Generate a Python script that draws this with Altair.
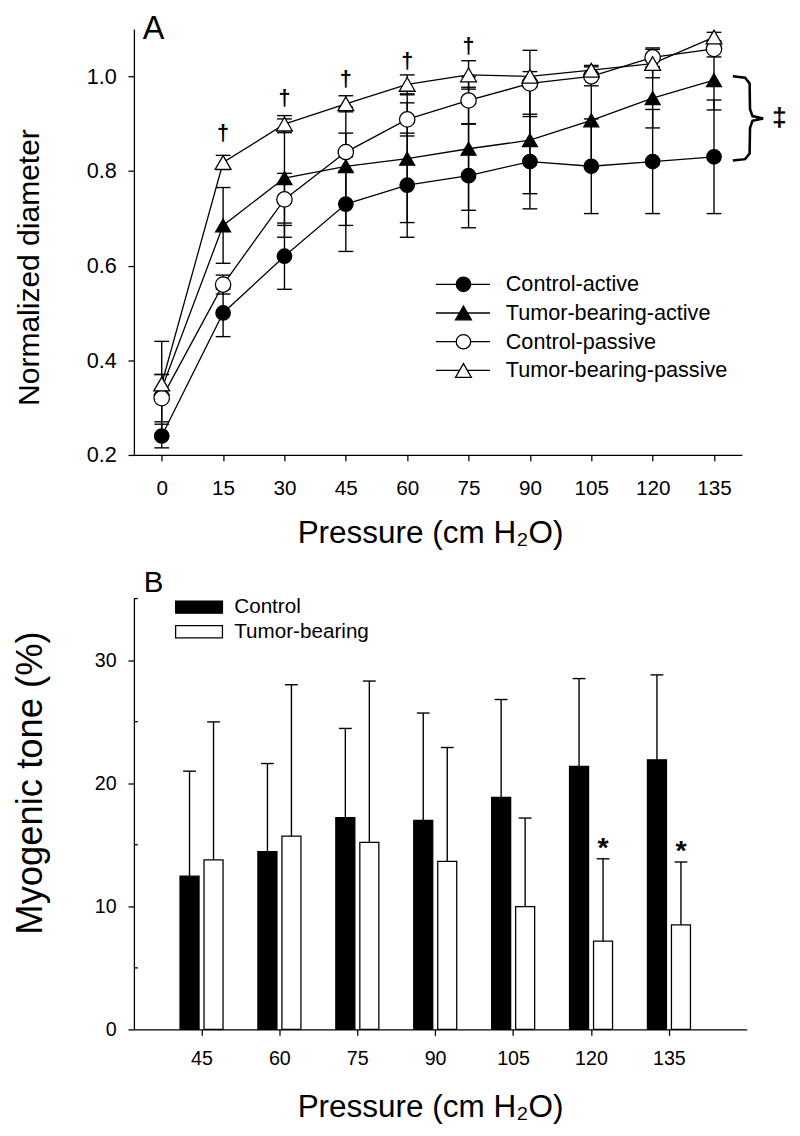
import altair as alt
import pandas as pd

# ---------------- Panel A data ----------------
pressure_a = [0, 15, 30, 45, 60, 75, 90, 105, 120, 135]
series_names = ["Control-active", "Tumor-bearing-active", "Control-passive", "Tumor-bearing-passive"]
control_active = [0.24, 0.50, 0.62, 0.73, 0.77, 0.79, 0.82, 0.81, 0.82, 0.83]
control_active_err = [0.025, 0.05, 0.07, 0.10, 0.11, 0.11, 0.10, 0.10, 0.11, 0.12]
tumor_active = [0.34, 0.685, 0.785, 0.81, 0.826, 0.847, 0.865, 0.907, 0.954, 0.992]
tumor_active_err = [0.10, 0.08, 0.125, 0.125, 0.135, 0.13, 0.113, 0.10, 0.063, 0.063]
control_passive = [0.32, 0.56, 0.74, 0.84, 0.909, 0.949, 0.985, 1.0, 1.04, 1.058]
control_passive_err = [0.05, 0.02, 0.055, 0.04, 0.035, 0.05, 0.07, 0.02, 0.02, 0.017]
tumor_passive = [0.35, 0.818, 0.899, 0.942, 0.983, 1.003, 1.0, 1.013, 1.027, 1.083]
tumor_passive_err = [0.02, 0.015, 0.018, 0.017, 0.02, 0.03, 0.01, 0.01, 0.03, 0.01]
dagger_x = [15, 30, 45, 60, 75]
dagger_y = [0.88, 0.955, 0.995, 1.033, 1.064]
y_ticks_a = [0.2, 0.4, 0.6, 0.8, 1.0]

# ---------------- Panel B data ----------------
pressure_b = [45, 60, 75, 90, 105, 120, 135]
group_names = ["Control", "Tumor-bearing"]
tone_control = [12.45, 14.45, 17.2, 16.98, 18.85, 21.36, 21.9]
tone_control_err = [8.53, 7.15, 7.25, 8.72, 7.95, 7.14, 6.9]
tone_tumor = [13.78, 15.7, 15.2, 13.65, 9.97, 7.17, 8.5]
tone_tumor_err = [11.2, 12.3, 13.1, 9.25, 7.2, 6.69, 5.1]
star_x = [120, 135]
y_ticks_b = [0, 10, 20, 30]
y_minor_b = [5, 15, 25, 35]

FONT = "Liberation Sans"
XTITLE = "Pressure (cm H\u2082O)"

# ---------------- Panel A ----------------
vals = [control_active, tumor_active, control_passive, tumor_passive]
errs = [control_active_err, tumor_active_err, control_passive_err, tumor_passive_err]
rows = []
for s, v, e in zip(series_names, vals, errs):
    for p, vv, ee in zip(pressure_a, v, e):
        rows.append({"series": s, "pressure": p, "val": vv, "lo": vv - ee, "hi": vv + ee})
dfa = pd.DataFrame(rows)

shapes = ["circle", "triangle-up", "circle", "triangle-up"]
fills = ["black", "black", "white", "white"]
sizes = [215, 260, 215, 260]

xs_a = alt.Scale(domain=[-6.8, 141.8], nice=False, zero=False)
ys_a = alt.Scale(domain=[0.2, 1.1], nice=False, zero=False)
x_a_axis = alt.Axis(values=pressure_a, title=XTITLE, labelFontSize=21,
                    labelBaseline="alphabetic", labelPadding=34, tickSize=6,
                    titleFontSize=32, titleY=89, titleBaseline="alphabetic",
                    titleX=301, labelFlush=False)
y_a_axis = alt.Axis(values=y_ticks_a, format=".1f", title="Normalized diameter",
                    labelFontSize=22, labelPadding=12, tickSize=6,
                    titleFontSize=30.5, titleX=-97, titleY=242,
                    titleBaseline="alphabetic", titleAngle=-90, labelFlush=False)


def xa(f="pressure:Q"):
    return alt.X(f, scale=xs_a, axis=x_a_axis)


def ya(f="val:Q"):
    return alt.Y(f, scale=ys_a, axis=y_a_axis)


base_a = alt.Chart(dfa)
err_a = base_a.mark_rule(color="black", strokeWidth=1.4).encode(x=xa(), y=ya("lo:Q"), y2="hi:Q")
caps_a = base_a.transform_fold(["lo", "hi"], as_=["k", "capv"]).mark_tick(
    orient="horizontal", size=15, thickness=1.4, color="black", opacity=1
).encode(x=xa(), y=ya("capv:Q"))
lines_a = base_a.mark_line(color="black", strokeWidth=1.3).encode(
    x=xa(), y=ya(), detail="series:N")
points_a = base_a.transform_calculate(
    ord="indexof(%s, datum.series)" % str(series_names)
).mark_point(filled=True, stroke="black", strokeWidth=1.3, opacity=1).encode(
    x=xa(), y=ya(),
    shape=alt.Shape("series:N", scale=alt.Scale(domain=series_names, range=shapes), legend=None),
    fill=alt.Fill("series:N", scale=alt.Scale(domain=series_names, range=fills), legend=None),
    size=alt.Size("series:N", scale=alt.Scale(domain=series_names, range=sizes), legend=None),
    order=alt.Order("ord:Q"),
)

dag_df = pd.DataFrame({"pressure": dagger_x, "val": dagger_y, "t": ["\u2020"] * len(dagger_x)})
daggers = alt.Chart(dag_df).mark_text(fontSize=22, fontWeight="bold", baseline="middle",
                                      color="black").encode(x=xa(), y=ya(), text="t:N")

# bracket between the two active curves at 135
top = tumor_active[-1] + 0.008
bot = control_active[-1] - 0.008
mid = (top + bot) / 2
bx = [139.6, 142.6, 143.7, 143.8, 144.4, 147.0, 144.4, 143.8, 143.7, 142.6, 139.6]
by = [top, top - 0.003, top - 0.015, mid + 0.02, mid + 0.005, mid,
      mid - 0.005, mid - 0.02, bot + 0.015, bot + 0.003, bot]
brace_df = pd.DataFrame({"pressure": bx, "val": by, "o": list(range(len(bx)))})
brace = alt.Chart(brace_df).mark_line(color="black", strokeWidth=2.6, clip=False).encode(
    x=xa(), y=ya(), order="o:Q")
dd_df = pd.DataFrame({"pressure": [151.0], "val": [mid], "t": ["\u2021"]})
ddag = alt.Chart(dd_df).mark_text(fontSize=27, fontWeight="bold", baseline="middle",
                                  color="black").encode(x=xa(), y=ya(), text="t:N")

leg_layers = []
for i, name in enumerate(series_names):
    ry = 259.5 + 29.2 * i
    d = pd.DataFrame({"name": [name]})
    leg_layers.append(alt.Chart(d).mark_rule(color="black", strokeWidth=1.3).encode(
        x=alt.value(307), x2=alt.value(362), y=alt.value(ry)))
    leg_layers.append(alt.Chart(d).mark_point(shape=shapes[i], filled=True, fill=fills[i],
                                              stroke="black", strokeWidth=1.3, size=sizes[i],
                                              opacity=1).encode(
        x=alt.value(335), y=alt.value(ry)))
    leg_layers.append(alt.Chart(d).mark_text(align="left", baseline="middle", fontSize=22,
                                             color="black").encode(
        text="name:N", x=alt.value(378), y=alt.value(ry)))

lab_a = alt.Chart(pd.DataFrame({"t": ["A"]})).mark_text(
    align="left", baseline="alphabetic", fontSize=33, color="black").encode(
    text="t:N", x=alt.value(9), y=alt.value(10))

panel_a = alt.layer(err_a, caps_a, lines_a, points_a, daggers, brace, ddag, *leg_layers, lab_a
                    ).properties(width=618, height=433)

# ---------------- Panel B ----------------
offsets = {"Control": -2.29, "Tumor-bearing": 2.33}
half_w = 1.83
rows = []
for g, v, e in zip(group_names, [tone_control, tone_tumor], [tone_control_err, tone_tumor_err]):
    for p, vv, ee in zip(pressure_b, v, e):
        xc = p + offsets[g]
        rows.append({"group": g, "pressure": p, "xc": xc, "x0": xc - half_w, "x1": xc + half_w,
                     "val": vv, "hi": vv + ee, "zero": 0})
dfb = pd.DataFrame(rows)

xs_b = alt.Scale(domain=[32, 150], nice=False, zero=False)
ys_b = alt.Scale(domain=[0, 35], nice=False, zero=False)
x_b_axis = alt.Axis(values=pressure_b, title=XTITLE, labelFontSize=20,
                    labelBaseline="alphabetic", labelPadding=30, tickSize=6,
                    titleFontSize=32, titleY=89, titleBaseline="alphabetic",
                    titleX=301, labelFlush=False)
y_b_axis = alt.Axis(values=y_ticks_b, title="Myogenic tone (%)", labelFontSize=20,
                    labelPadding=12, tickSize=6, titleFontSize=37, titleX=-94, titleY=187,
                    titleBaseline="alphabetic", titleAngle=-90, labelFlush=False)


def xb(f):
    return alt.X(f, scale=xs_b, axis=x_b_axis)


def yb(f):
    return alt.Y(f, scale=ys_b, axis=y_b_axis)


bar_fill = {"Control": "black", "Tumor-bearing": "white"}
bar_layers = []
for g in group_names:
    bar_layers.append(alt.Chart(dfb).transform_filter(alt.datum.group == g).mark_bar(
        fill=bar_fill[g], stroke="black", strokeWidth=1.3).encode(
        x=xb("x0:Q"), x2="x1:Q", y=yb("val:Q"), y2="zero:Q"))
err_b = alt.Chart(dfb).mark_rule(color="black", strokeWidth=1.4).encode(
    x=xb("xc:Q"), y=yb("val:Q"), y2="hi:Q")
caps_b = alt.Chart(dfb).mark_tick(orient="horizontal", size=13, thickness=1.4, color="black",
                                  opacity=1).encode(x=xb("xc:Q"), y=yb("hi:Q"))

star_hi = [tone_tumor[pressure_b.index(p)] + tone_tumor_err[pressure_b.index(p)] for p in star_x]
star_df = pd.DataFrame({"xc": [p + offsets["Tumor-bearing"] for p in star_x], "hi": star_hi,
                        "t": ["*"] * len(star_x)})
stars = alt.Chart(star_df).mark_text(fontSize=29, fontWeight="bold", baseline="alphabetic",
                                     dy=-2, color="black").encode(
    x=xb("xc:Q"), y=yb("hi:Q"), text="t:N")

minor_df = pd.DataFrame({"m": y_minor_b})
minor = alt.Chart(minor_df).mark_rule(color="black", strokeWidth=1.3).encode(
    y=yb("m:Q"), x=alt.value(0), x2=alt.value(4))

leg_b = []
for i, g in enumerate(group_names):
    ry = 8.7 + 25 * i
    d = pd.DataFrame({"name": [g]})
    leg_b.append(alt.Chart(d).mark_rect(fill=bar_fill[g], stroke="black", strokeWidth=1.3).encode(
        x=alt.value(42.4), x2=alt.value(90), y=alt.value(ry - 6.2), y2=alt.value(ry + 6.2)))
    leg_b.append(alt.Chart(d).mark_text(align="left", baseline="middle", fontSize=21,
                                        color="black").encode(
        text="name:N", x=alt.value(102), y=alt.value(ry)))

lab_b = alt.Chart(pd.DataFrame({"t": ["B"]})).mark_text(
    align="left", baseline="alphabetic", fontSize=30, color="black").encode(
    text="t:N", x=alt.value(10), y=alt.value(-7))

panel_b = alt.layer(*bar_layers, err_b, caps_b, stars, minor, *leg_b, lab_b
                    ).properties(width=623, height=438)

chart = alt.vconcat(panel_a, panel_b, spacing=20).properties(
    padding={"left": 3, "top": -4, "right": 5, "bottom": 5}
).configure_view(stroke=None).configure_axis(
    domainColor="black", domainWidth=1.3, tickColor="black", tickWidth=1.3,
    labelColor="black", titleColor="black", labelFont=FONT, titleFont=FONT,
    titleFontWeight="normal", grid=False
).configure_text(font=FONT)

chart.save("out.html", embed_options={"renderer": "svg", "actions": False})
